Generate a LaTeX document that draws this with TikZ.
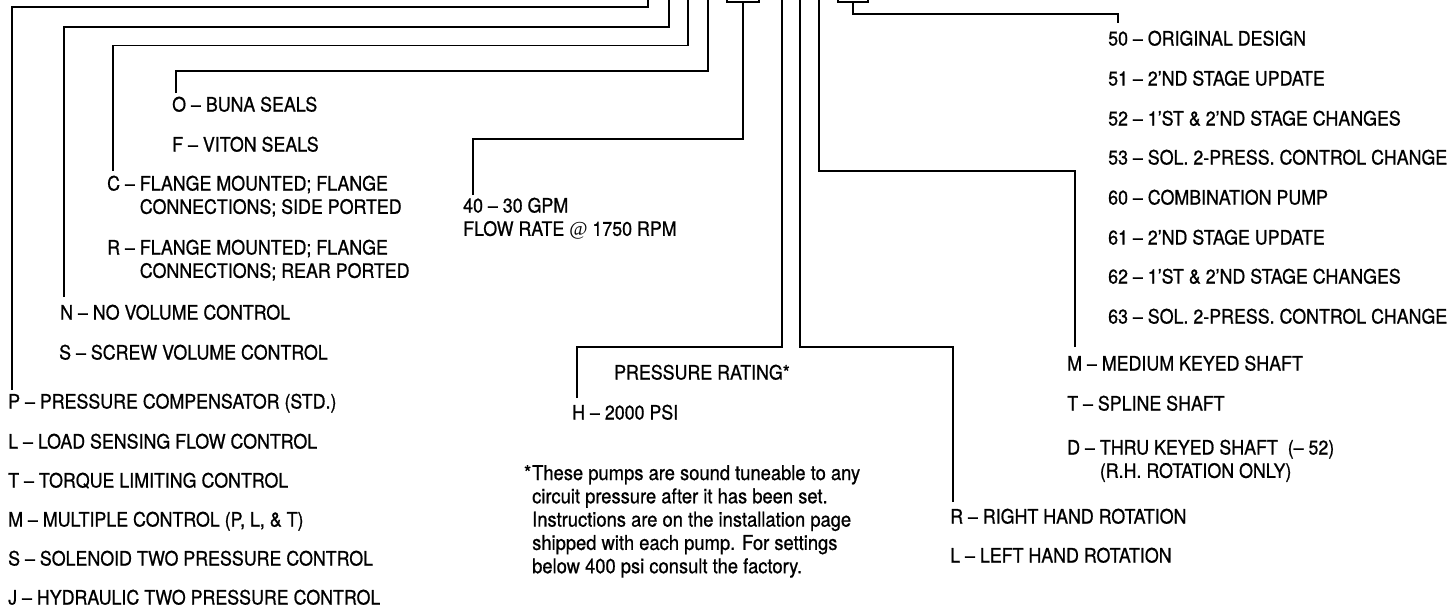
\documentclass[tikz,border=0pt]{standalone}
\usepackage{fontspec}
\setmainfont[FakeStretch=0.9,FakeBold=0.8]{TeX Gyre Heros}
\newfontfamily\atfont{Liberation Serif}
\newcommand\twoline[2]{\begin{tabular}[t]{@{}l@{}}#1\\#2\end{tabular}}
\begin{document}
\begin{tikzpicture}[x=1pt,y=-1pt,
  lbl/.style={anchor=base west, inner sep=0pt, font=\fontsize{19.8}{23.3}\selectfont},
  notelbl/.style={anchor=base west, inner sep=0pt, font=\fontsize{20.4}{23.3}\selectfont},
  wire/.style={line width=1.7pt},
  tab/.style={draw, line width=1.7pt, anchor=south, inner sep=0pt, minimum height=16pt}]
\useasboundingbox (0,0) rectangle (1453,608);
% ---------- left column ----------
\node[lbl] (o)  at (172,111.5) {O -- BUNA SEALS};
\node[lbl] (f)  at (172,151.5) {F -- VITON SEALS};
\node[lbl] (c)  at (107,190.5) {C -- \twoline{FLANGE MOUNTED; FLANGE}{CONNECTIONS; SIDE PORTED}};
\node[lbl] (r)  at (107,254.5) {R -- \twoline{FLANGE MOUNTED; FLANGE}{CONNECTIONS; REAR PORTED}};
\node[lbl] (n)  at (60,319.5) {N -- NO VOLUME CONTROL};
\node[lbl] (s)  at (59,359.5) {S -- SCREW VOLUME CONTROL};
\node[lbl] (p)  at (8,408.5) {P -- PRESSURE COMPENSATOR (STD.)};
\node[lbl] (l)  at (8,448.5) {L -- LOAD SENSING FLOW CONTROL};
\node[lbl] (t)  at (8,487.5) {T -- TORQUE LIMITING CONTROL};
\node[lbl] (m)  at (8,526.5) {M -- MULTIPLE CONTROL (P, L, \& T)};
\node[lbl] (so) at (8,565.5) {S -- SOLENOID TWO PRESSURE CONTROL};
\node[lbl] (j)  at (8,604.5) {J -- HYDRAULIC TWO PRESSURE CONTROL};
% ---------- middle ----------
\node[lbl] (gpm) at (463,212.5) {\twoline{40 -- 30 GPM}{FLOW RATE {\atfont @} 1750 RPM}};
\node[lbl] (pr)  at (614,379.5) {PRESSURE RATING*};
\node[lbl] (h)   at (572,419.5) {H -- 2000 PSI};
\node[notelbl] (note) at (532,480) {\begin{tabular}[t]{@{}l@{}}\llap{*\kern1pt}These pumps are sound tuneable to any\\
circuit pressure after it has been set.\\
Instructions are on the installation page\\
shipped with each pump. For settings\\
below 400 psi consult the factory.\end{tabular}};
% ---------- right column ----------
\node[lbl] (d50) at (1108,45.5)  {50 -- ORIGINAL DESIGN};
\node[lbl] (d51) at (1108,85.5)  {51 -- 2'ND STAGE UPDATE};
\node[lbl] (d52) at (1108,125.5) {52 -- 1'ST \& 2'ND STAGE CHANGES};
\node[lbl] (d53) at (1108,164.5) {53 -- SOL. 2-PRESS. CONTROL CHANGE};
\node[lbl] (d60) at (1108,204.5) {60 -- COMBINATION PUMP};
\node[lbl] (d61) at (1108,244.5) {61 -- 2'ND STAGE UPDATE};
\node[lbl] (d62) at (1108,283.5) {62 -- 1'ST \& 2'ND STAGE CHANGES};
\node[lbl] (d63) at (1108,323.5) {63 -- SOL. 2-PRESS. CONTROL CHANGE};
\node[lbl] (sm) at (1067,370.5) {M -- MEDIUM KEYED SHAFT};
\node[lbl] (st) at (1067,410.5) {T -- SPLINE SHAFT};
\node[lbl] (sd) at (1067,454.5) {D -- \twoline{THRU KEYED SHAFT \ (-- 52)}{(R.H. ROTATION ONLY)}};
\node[lbl] (rr) at (950,523.5) {R -- RIGHT HAND ROTATION};
\node[lbl] (rl) at (950,562.5) {L -- LEFT HAND ROTATION};
% ---------- tabs at the top ----------
\node[tab, minimum width=32pt] (box1) at (743,3) {};
\node[tab, minimum width=30pt] (box2) at (853,3) {};
% ---------- connector points ----------
\coordinate (e1) at (12,390);   \coordinate (k1) at (648,7);    \coordinate (t1) at (648,-3);
\coordinate (e2) at (64,297);   \coordinate (k2) at (669,27);   \coordinate (t2) at (669,-3);
\coordinate (e3) at (113,171);  \coordinate (k3) at (688,45.5); \coordinate (t3) at (688,-3);
\coordinate (e4) at (176,93);   \coordinate (k4) at (708,71);   \coordinate (t4) at (708,-3);
\coordinate (e5) at (473,195);  \coordinate (k5) at (743,139);
\coordinate (e6) at (577,398);  \coordinate (k6) at (782,347);  \coordinate (t6) at (782,-3);
\coordinate (e7) at (953,502);  \coordinate (k7) at (800,347);  \coordinate (t7) at (800,-3);
\coordinate (e8) at (1075,347); \coordinate (k8) at (819,171);  \coordinate (t8) at (819,-3);
\coordinate (k9) at (1118,14);  \coordinate (e9) at (1118,23);
% ---------- connectors ----------
\draw[wire] (e1) |- (k1) -- (t1);
\draw[wire] (e2) |- (k2) -- (t2);
\draw[wire] (e3) |- (k3) -- (t3);
\draw[wire] (e4) |- (k4) -- (t4);
\draw[wire] (e5) |- (k5) -- (box1.south);
\draw[wire] (e6) |- (k6) -- (t6);
\draw[wire] (e7) |- (k7) -- (t7);
\draw[wire] (e8) |- (k8) -- (t8);
\draw[wire] (box2.south) |- (k9) -- (e9);
\end{tikzpicture}
\end{document}
